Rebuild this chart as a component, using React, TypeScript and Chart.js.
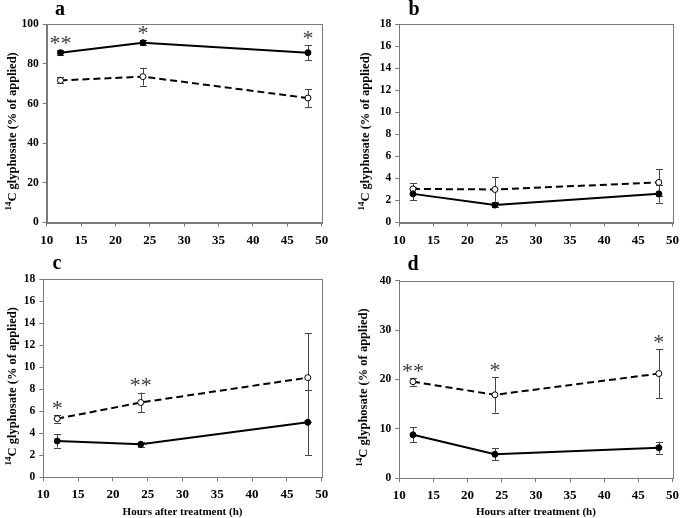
import React, { useEffect, useRef } from "react";
import { Chart, registerables } from "chart.js";
Chart.register(...registerables);

const xHours = [12, 24, 48];
const xTicks = [10, 15, 20, 25, 30, 35, 40, 45, 50];

const aFilled = [85.7, 90.7, 85.7];
const aFilledErr = [1.2, 1.2, 3.9];
const aOpen = [71.7, 73.6, 62.8];
const aOpenErr = [1.5, 4.5, 4.5];
const aStars = ["**", "*", "*"];

const bFilled = [2.6, 1.58, 2.6];
const bFilledErr = [0.6, 0.2, 0.8];
const bOpen = [3.05, 3.0, 3.64];
const bOpenErr = [0.5, 1.1, 1.2];
const bStars = ["", "", ""];

const cFilled = [3.3, 3.0, 5.0];
const cFilledErr = [0.6, 0.25, 2.95];
const cOpen = [5.33, 6.8, 9.06];
const cOpenErr = [0.35, 0.9, 4.05];
const cStars = ["*", "**", ""];

const dFilled = [8.8, 4.86, 6.2];
const dFilledErr = [1.5, 1.2, 1.2];
const dOpen = [19.56, 16.9, 21.2];
const dOpenErr = [0.8, 3.6, 4.9];
const dStars = ["**", "*", "*"];

const yTitleSup = "14";
const yTitleMain = "C glyphosate (% of applied)";
const xTitle = "Hours after treatment (h)";

const SERIF = "'Liberation Serif', 'Times New Roman', serif";
const AXIS_COLOR = "#7a7a7a";

type Panel = {
  letter: string;
  filled: number[];
  filledErr: number[];
  open: number[];
  openErr: number[];
  stars: string[];
  yMax: number;
  yStep: number;
  showXTitle: boolean;
  box: { left: number; top: number; w: number; h: number };
  plot: { l: number; r: number; t: number; b: number };
  letterPos: { x: number; y: number };
  yTitleX: number;
};

const panels: Panel[] = [
  {
    letter: "a", filled: aFilled, filledErr: aFilledErr, open: aOpen, openErr: aOpenErr, stars: aStars,
    yMax: 100, yStep: 20, showXTitle: false,
    box: { left: 0, top: 0, w: 340, h: 255 },
    plot: { l: 46.7, r: 321.7, t: 24.3, b: 222.5 },
    letterPos: { x: 60, y: 15 }, yTitleX: 12,
  },
  {
    letter: "b", filled: bFilled, filledErr: bFilledErr, open: bOpen, openErr: bOpenErr, stars: bStars,
    yMax: 18, yStep: 2, showXTitle: false,
    box: { left: 340, top: 0, w: 345, h: 255 },
    plot: { l: 59.3, r: 338.5, t: 24.3, b: 222.5 },
    letterPos: { x: 74, y: 15 }, yTitleX: 25,
  },
  {
    letter: "c", filled: cFilled, filledErr: cFilledErr, open: cOpen, openErr: cOpenErr, stars: cStars,
    yMax: 18, yStep: 2, showXTitle: true,
    box: { left: 0, top: 255, w: 340, h: 263 },
    plot: { l: 43.3, r: 321.7, t: 24.3, b: 222.3 },
    letterPos: { x: 57, y: 14 }, yTitleX: 12,
  },
  {
    letter: "d", filled: dFilled, filledErr: dFilledErr, open: dOpen, openErr: dOpenErr, stars: dStars,
    yMax: 40, yStep: 10, showXTitle: true,
    box: { left: 340, top: 255, w: 345, h: 263 },
    plot: { l: 59.3, r: 339.2, t: 25.7, b: 223.3 },
    letterPos: { x: 73, y: 15 }, yTitleX: 23,
  },
];

function PanelChart({ p }: { p: Panel }) {
  const ref = useRef<HTMLCanvasElement | null>(null);
  useEffect(() => {
    if (!ref.current) return;
    const series = [
      { v: p.filled, e: p.filledErr },
      { v: p.open, e: p.openErr },
    ];
    const decor = {
      id: "decor" + p.letter,
      beforeDatasetsDraw(chart: any) {
        const ctx = chart.ctx;
        const xs = chart.scales.x;
        const ys = chart.scales.y;
        ctx.save();
        ctx.strokeStyle = "#444";
        ctx.lineWidth = 1;
        series.forEach((s) => {
          s.v.forEach((v, j) => {
            const x = Math.round(xs.getPixelForValue(xHours[j])) + 0.5;
            const y1 = ys.getPixelForValue(v + s.e[j]);
            const y2 = ys.getPixelForValue(v - s.e[j]);
            ctx.beginPath();
            ctx.moveTo(x, y1);
            ctx.lineTo(x, y2);
            ctx.moveTo(x - 3.5, Math.round(y1) + 0.5);
            ctx.lineTo(x + 3.5, Math.round(y1) + 0.5);
            ctx.moveTo(x - 3.5, Math.round(y2) + 0.5);
            ctx.lineTo(x + 3.5, Math.round(y2) + 0.5);
            ctx.stroke();
          });
        });
        ctx.restore();
      },
      afterDraw(chart: any) {
        const ctx = chart.ctx;
        const xs = chart.scales.x;
        const ys = chart.scales.y;
        const ca = chart.chartArea;
        ctx.save();
        // frame
        ctx.strokeStyle = AXIS_COLOR;
        ctx.lineWidth = 1;
        ctx.strokeRect(Math.round(ca.left) + 0.5, Math.round(ca.top) + 0.5,
          Math.round(ca.right) - Math.round(ca.left), Math.round(ca.bottom) - Math.round(ca.top));
        // stars
        ctx.fillStyle = "#3a3a3a";
        ctx.font = "22px " + SERIF;
        ctx.textAlign = "center";
        ctx.textBaseline = "middle";
        p.stars.forEach((st, j) => {
          if (!st) return;
          let top = -Infinity;
          series.forEach((s) => { top = Math.max(top, s.v[j] + s.e[j]); });
          const y = ys.getPixelForValue(top) - 10;
          const x = xs.getPixelForValue(xHours[j]);
          const n = st.length;
          for (let k = 0; k < n; k++) {
            const dx = (k - (n - 1) / 2) * 11;
            ctx.fillText("*", x + dx, y + 4);
          }
        });
        // panel letter
        ctx.fillStyle = "#000";
        ctx.font = "bold 20px " + SERIF;
        ctx.textAlign = "center";
        ctx.textBaseline = "alphabetic";
        ctx.fillText(p.letter, p.letterPos.x, p.letterPos.y);
        // y title
        const cy = (ca.top + ca.bottom) / 2 + 8;
        ctx.translate(p.yTitleX, cy);
        ctx.rotate(-Math.PI / 2);
        ctx.textBaseline = "middle";
        ctx.textAlign = "left";
        ctx.font = "bold 9px " + SERIF;
        const wSup = ctx.measureText(yTitleSup).width;
        ctx.font = "bold 12.5px " + SERIF;
        const wMain = ctx.measureText(yTitleMain).width;
        const start = -(wSup + wMain) / 2;
        ctx.font = "bold 9px " + SERIF;
        ctx.fillText(yTitleSup, start, -3);
        ctx.font = "bold 12.5px " + SERIF;
        ctx.fillText(yTitleMain, start + wSup, 1);
        ctx.setTransform(1, 0, 0, 1, 0, 0);
        if (p.showXTitle) {
          ctx.font = "bold 11px " + SERIF;
          ctx.textAlign = "center";
          ctx.textBaseline = "middle";
          ctx.fillText(xTitle, (ca.left + ca.right) / 2, p.box.h - 6);
        }
        ctx.restore();
      },
    };
    const chart = new Chart(ref.current, {
      type: "line",
      data: {
        datasets: [
          {
            data: xHours.map((x, i) => ({ x, y: p.filled[i] })),
            borderColor: "#000",
            borderWidth: 2,
            pointRadius: 3,
            pointBackgroundColor: "#000",
            pointBorderColor: "#000",
            pointBorderWidth: 1,
            tension: 0,
          },
          {
            data: xHours.map((x, i) => ({ x, y: p.open[i] })),
            borderColor: "#000",
            borderWidth: 2,
            borderDash: [7, 4],
            pointRadius: 3,
            pointBackgroundColor: "#fff",
            pointBorderColor: "#000",
            pointBorderWidth: 1,
            tension: 0,
          },
        ],
      },
      options: {
        responsive: false,
        animation: false,
        layout: {
          padding: {
            left: 0,
            top: p.plot.t,
            right: p.box.w - p.plot.r,
            bottom: 0,
          },
        },
        plugins: { legend: { display: false }, tooltip: { enabled: false } },
        scales: {
          x: {
            type: "linear",
            min: 10,
            max: 50,
            afterBuildTicks: (s: any) => { s.ticks = xTicks.map((v) => ({ value: v })); },
            afterFit: (s: any) => { s.height = p.box.h - p.plot.b; },
            grid: { display: true, drawOnChartArea: false, drawTicks: true, tickLength: 4, color: AXIS_COLOR },
            border: { color: AXIS_COLOR, width: 1 },
            ticks: { color: "#000", font: { family: SERIF, size: 13, weight: "bold" }, padding: 6, maxRotation: 0 },
          },
          y: {
            type: "linear",
            min: 0,
            max: p.yMax,
            ticks: { stepSize: p.yStep, color: "#000", font: { family: SERIF, size: 11.5, weight: "bold" }, padding: 4 },
            afterFit: (s: any) => { s.width = p.plot.l; },
            grid: { display: true, drawOnChartArea: false, drawTicks: true, tickLength: 4, color: AXIS_COLOR },
            border: { color: AXIS_COLOR, width: 1 },
          },
        },
      } as any,
      plugins: [decor],
    });
    return () => chart.destroy();
  }, [p]);
  return (
    <canvas
      ref={ref}
      width={p.box.w}
      height={p.box.h}
      style={{ position: "absolute", left: p.box.left, top: p.box.top, width: p.box.w, height: p.box.h }}
    />
  );
}

export default function App() {
  return (
    <div style={{ position: "fixed", left: 0, top: 0, width: 685, height: 518, background: "#fff" }}>
      {panels.map((p) => (
        <PanelChart key={p.letter} p={p} />
      ))}
    </div>
  );
}
